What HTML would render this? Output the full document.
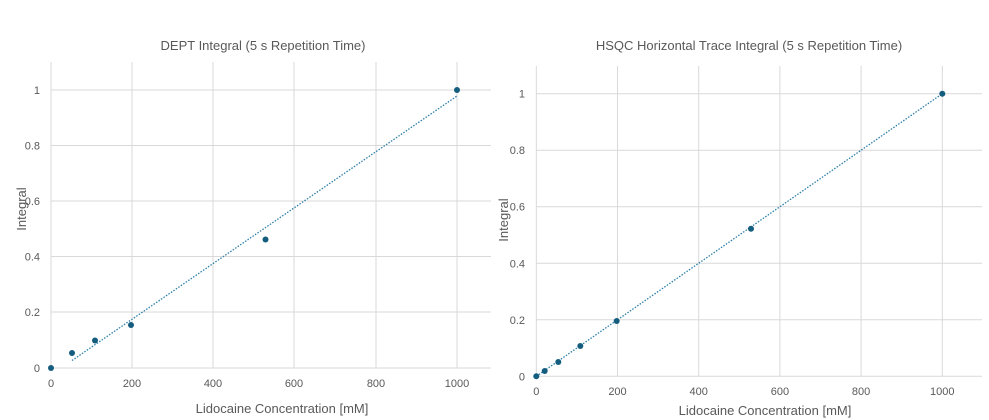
<!DOCTYPE html>
<html><head><meta charset="utf-8"><style>
html,body{margin:0;padding:0;background:#fff;}
svg{display:block;font-family:"Liberation Sans",sans-serif;}
</style></head><body>
<svg width="989" height="420" viewBox="0 0 989 420" xmlns="http://www.w3.org/2000/svg">
<rect width="989" height="420" fill="#fff"/>
<!-- LEFT CHART -->
<g stroke="#d9d9d9" stroke-width="1">
<line x1="51" y1="62" x2="51" y2="368"/><line x1="132" y1="62" x2="132" y2="368"/><line x1="213" y1="62" x2="213" y2="368"/><line x1="294" y1="62" x2="294" y2="368"/><line x1="376" y1="62" x2="376" y2="368"/><line x1="457" y1="62" x2="457" y2="368"/>
<line x1="51" y1="90" x2="491" y2="90"/><line x1="51" y1="145.5" x2="491" y2="145.5"/><line x1="51" y1="201" x2="491" y2="201"/><line x1="51" y1="256.5" x2="491" y2="256.5"/><line x1="51" y1="312" x2="491" y2="312"/><line x1="51" y1="368" x2="491" y2="368"/>
</g>
<g fill="#595959" font-size="11" text-anchor="end">
<text x="40" y="94">1</text><text x="40" y="149.5">0.8</text><text x="40" y="205">0.6</text><text x="40" y="260.5">0.4</text><text x="40" y="316">0.2</text><text x="40" y="372">0</text>
</g>
<g fill="#595959" font-size="11" text-anchor="middle">
<text x="51" y="387">0</text><text x="132" y="387">200</text><text x="213" y="387">400</text><text x="294" y="387">600</text><text x="376" y="387">800</text><text x="457" y="387">1000</text>
</g>
<text x="263" y="50" fill="#595959" font-size="13" text-anchor="middle">DEPT Integral (5 s Repetition Time)</text>
<text x="282" y="413" fill="#595959" font-size="13" text-anchor="middle">Lidocaine Concentration [mM]</text>
<text transform="translate(26,209) rotate(-90)" fill="#595959" font-size="13" text-anchor="middle">Integral</text>
<line x1="72" y1="360.5" x2="457" y2="96" stroke="#2e7fa8" stroke-width="1.3" stroke-dasharray="1.5,1.5"/>
<g fill="#155d7e">
<circle cx="51" cy="368" r="3"/><circle cx="72" cy="353" r="3"/><circle cx="95" cy="340.5" r="3"/><circle cx="131" cy="325" r="3"/><circle cx="265.5" cy="239.5" r="3"/><circle cx="457" cy="90" r="3"/>
</g>
<!-- RIGHT CHART -->
<g stroke="#d9d9d9" stroke-width="1">
<line x1="536.3" y1="66" x2="536.3" y2="376.3"/><line x1="617.5" y1="66" x2="617.5" y2="376.3"/><line x1="698.7" y1="66" x2="698.7" y2="376.3"/><line x1="779.9" y1="66" x2="779.9" y2="376.3"/><line x1="861.1" y1="66" x2="861.1" y2="376.3"/><line x1="942.3" y1="66" x2="942.3" y2="376.3"/>
<line x1="536" y1="93.7" x2="982" y2="93.7"/><line x1="536" y1="150.2" x2="982" y2="150.2"/><line x1="536" y1="206.7" x2="982" y2="206.7"/><line x1="536" y1="263.3" x2="982" y2="263.3"/><line x1="536" y1="319.8" x2="982" y2="319.8"/><line x1="536" y1="376.3" x2="982" y2="376.3"/>
</g>
<g fill="#595959" font-size="11" text-anchor="end">
<text x="525" y="97.7">1</text><text x="525" y="154.2">0.8</text><text x="525" y="210.7">0.6</text><text x="525" y="267.3">0.4</text><text x="525" y="323.8">0.2</text><text x="525" y="380.3">0</text>
</g>
<g fill="#595959" font-size="11" text-anchor="middle">
<text x="536.3" y="395">0</text><text x="617.5" y="395">200</text><text x="698.7" y="395">400</text><text x="779.9" y="395">600</text><text x="861.1" y="395">800</text><text x="942.3" y="395">1000</text>
</g>
<text x="749" y="50" fill="#595959" font-size="13" text-anchor="middle">HSQC Horizontal Trace Integral (5 s Repetition Time)</text>
<text x="765" y="415" fill="#595959" font-size="13" text-anchor="middle">Lidocaine Concentration [mM]</text>
<text transform="translate(508,220) rotate(-90)" fill="#595959" font-size="13" text-anchor="middle">Integral</text>
<line x1="536.3" y1="376.3" x2="942.3" y2="93.7" stroke="#2e7fa8" stroke-width="1.3" stroke-dasharray="1.5,1.5"/>
<g fill="#155d7e">
<circle cx="536.3" cy="376.3" r="3"/><circle cx="544.7" cy="371" r="3"/><circle cx="558.3" cy="362" r="3"/><circle cx="580.3" cy="346" r="3"/><circle cx="616.7" cy="321" r="3"/><circle cx="751" cy="228.7" r="3"/><circle cx="942.3" cy="93.7" r="3"/>
</g>
</svg>
</body></html>
